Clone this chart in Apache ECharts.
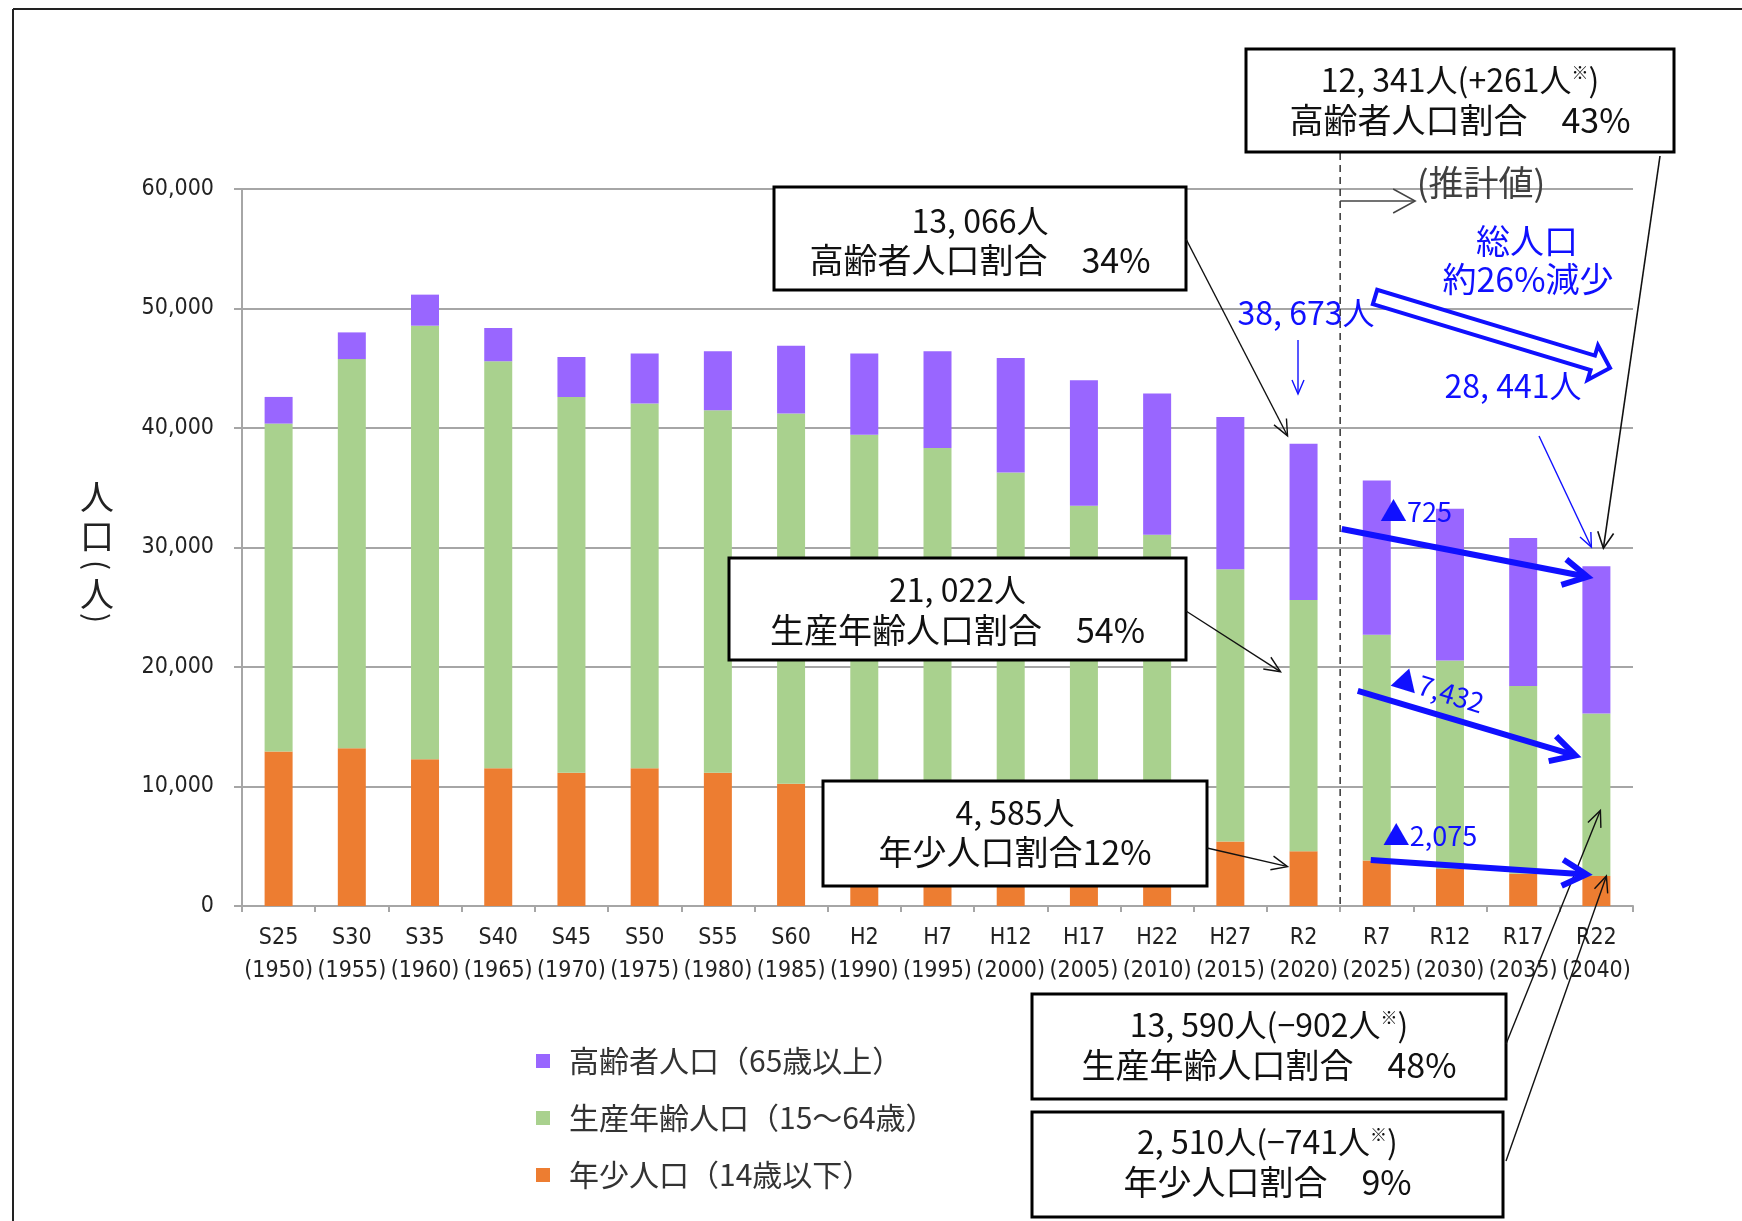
<!DOCTYPE html>
<html><head><meta charset="utf-8">
<script src="https://cdn.jsdelivr.net/npm/echarts@6/dist/echarts.min.js"></script>
<style>html,body{margin:0;padding:0;background:#fff}#c{width:1742px;height:1221px}</style>
</head><body><div id="c"></div>
<script>
// ---- data ----
const categories = ['S25','S30','S35','S40','S45','S50','S55','S60','H2','H7','H12','H17','H22','H27','R2','R7','R12','R17','R22'];
const years = ['1950','1955','1960','1965','1970','1975','1980','1985','1990','1995','2000','2005','2010','2015','2020','2025','2030','2035','2040'];
const youngPop   = [12930,13210,12280,11530,11160,11530,11160,10230,9000,7800,6800,6200,5800,5400,4585,3800,3100,2700,2510];
const workingPop = [27440,32560,36280,34050,31440,30520,30330,30980,30440,30530,29480,27290,25270,22790,21022,18900,17450,15700,13590];
const elderlyPop = [2230,2230,2600,2790,3350,4180,4930,5670,6790,8090,9580,10510,11810,12740,13066,12900,12700,12400,12341];
const seriesNames = ['年少人口（14歳以下）','生産年齢人口（15～64歳）','高齢者人口（65歳以上）'];
const legendOrder = ['高齢者人口（65歳以上）','生産年齢人口（15～64歳）','年少人口（14歳以下）'];
const yAxisName = ['人','口','(','人',')'];
const boxLabels = [
  ['{a|12, 341人(+261人}{s|※}{a|)}','高齢者人口割合　43%'],
  ['13, 066人','高齢者人口割合　34%'],
  ['21, 022人','生産年齢人口割合　54%'],
  ['4, 585人','年少人口割合12%'],
  ['{a|13, 590人(−902人}{s|※}{a|)}','生産年齢人口割合　48%'],
  ['{a|2, 510人(−741人}{s|※}{a|)}','年少人口割合　9%']
];
const blueLabels = {start:'38, 673人', end:'28, 441人', total1:'総人口', total2:'約26%減少', d1:'▲725', d2:'▲7,432', d3:'▲2,075'};
const estLabel = '(推計値)';

const JP = "'Noto Sans CJK JP','Noto Sans',sans-serif";
const NUM = "'Liberation Sans Narrow','DejaVu Sans Condensed','Liberation Sans',sans-serif";
const GRAY = '#a6a6a6';
const BLUE = '#1010ff';

const chart = echarts.init(document.getElementById('c'), null, {width:1742, height:1221});
const colors = ['#ED7D31','#A9D18E','#9966FF'];
const dataSets = [youngPop, workingPop, elderlyPop];

chart.setOption({
  animation:false,
  backgroundColor:'#fff',
  grid:{left:242, right:109, top:189, bottom:315},
  legend:{
    orient:'vertical', left:531, top:1040, itemWidth:14, itemHeight:14, itemGap:25, icon:'rect',
    data:legendOrder, selectedMode:false,
    textStyle:{fontFamily:JP, fontSize:30, color:'#333', lineHeight:32, padding:[0,0,0,14]}
  },
  xAxis:{
    type:'category', data:categories,
    axisLine:{lineStyle:{color:GRAY, width:2}},
    axisTick:{show:true, length:6, lineStyle:{color:GRAY, width:2}},
    axisLabel:{interval:0, margin:16, formatter:(v,i)=> v + '\n(' + years[i] + ')',
      fontFamily:NUM, fontSize:23, lineHeight:33, color:'#222'}
  },
  yAxis:{
    type:'value', min:0, max:60000, interval:10000,
    axisLine:{show:true, lineStyle:{color:GRAY, width:2}},
    axisTick:{show:true, length:8, lineStyle:{color:GRAY, width:2}},
    splitLine:{lineStyle:{color:GRAY, width:2}},
    axisLabel:{margin:28, fontFamily:NUM, fontSize:23, color:'#222',
      formatter:v=> v.toLocaleString('en-US')}
  },
  series: seriesNames.map((n,k)=>({
    name:n, type:'bar', stack:'total', barWidth:28, data:dataSets[k],
    itemStyle:{color:colors[k]}, emphasis:{disabled:true}
  }))
});

const P = (i,v)=> chart.convertToPixel({gridIndex:0},[i,v]);

function arrow(x1,y1,x2,y2,color,w,hl,hw,z){
  const dx=x2-x1, dy=y2-y1, L=Math.hypot(dx,dy), ux=dx/L, uy=dy/L, nx=-uy, ny=ux;
  const bx=x2-ux*hl, by=y2-uy*hl;
  return [
    {type:'polyline', silent:true, z:z, shape:{points:[[x1,y1],[x2-ux*w*0.5,y2-uy*w*0.5]]}, style:{stroke:color, lineWidth:w, fill:null}},
    {type:'polyline', silent:true, z:z, shape:{points:[[bx+nx*hw,by+ny*hw],[x2,y2],[bx-nx*hw,by-ny*hw]]}, style:{stroke:color, lineWidth:w, fill:null, lineJoin:'miter'}}
  ];
}
function hollowArrow(x1,y1,x2,y2,sw,hw,hl,color,z){
  const dx=x2-x1, dy=y2-y1, L=Math.hypot(dx,dy), ux=dx/L, uy=dy/L, nx=-uy, ny=ux;
  const bx=x2-ux*hl, by=y2-uy*hl;
  const pts=[[x1+nx*sw/2,y1+ny*sw/2],[bx+nx*sw/2,by+ny*sw/2],[bx+nx*hw/2,by+ny*hw/2],[x2,y2],
    [bx-nx*hw/2,by-ny*hw/2],[bx-nx*sw/2,by-ny*sw/2],[x1-nx*sw/2,y1-ny*sw/2]];
  return {type:'polygon', silent:true, z:z, shape:{points:pts}, style:{fill:'#fff', stroke:color, lineWidth:4, lineJoin:'miter'}};
}
function txt(x,y,text,size,color,extra){
  return {type:'text', silent:true, z:20, x:x, y:y,
    style:Object.assign({text:text, fontFamily:JP, fontSize:size, fill:color, align:'center', verticalAlign:'middle'}, extra||{})};
}

const boxGeom = [
  {x:1246,y:49,w:428,h:103,y1:80,y2:120},
  {x:774,y:187,w:412,h:103,y1:221,y2:260},
  {x:729,y:558,w:457,h:102,y1:590,y2:630},
  {x:823,y:781,w:384,h:105,y1:813,y2:852},
  {x:1032,y:994,w:474,h:105,y1:1025,y2:1065},
  {x:1032,y:1112,w:471,h:105,y1:1142,y2:1182}
];

const g = [];
// outer frame
g.push({type:'line', silent:true, shape:{x1:13,y1:9,x2:1742,y2:9}, style:{stroke:'#222', lineWidth:2}});
g.push({type:'line', silent:true, shape:{x1:13,y1:9,x2:13,y2:1221}, style:{stroke:'#222', lineWidth:2}});
// y axis name (vertical, parentheses turned)
const nameY = [497,536,565,594,618];
yAxisName.forEach((ch,k)=>{
  const isParen = (ch==='(' || ch===')');
  g.push({type:'text', silent:true, x:97, y:nameY[k], rotation: isParen ? -Math.PI/2 : 0,
    style:{text:ch, fontFamily:JP, fontSize:isParen?30:34, fill:'#222', align:'center', verticalAlign:'middle'}});
});

// dashed divider between R2 and R7
const iR2 = categories.indexOf('R2'), iR7 = categories.indexOf('R7'), iR22 = categories.indexOf('R22');
const divX = (P(iR2,0)[0] + P(iR7,0)[0]) / 2;
g.push({type:'line', silent:true, z:5, shape:{x1:divX,y1:153,x2:divX,y2:P(0,0)[1]}, style:{stroke:'#333', lineWidth:1.5, lineDash:[7,5]}});
// estimate arrow + label
g.push(...arrow(divX,201,divX+75,201,'#444',1.5,22,12,6));
g.push(txt(1481,183,estLabel,35,'#404040'));

// boxes
boxGeom.forEach((b,k)=>{
  g.push({type:'rect', silent:true, z:10, shape:{x:b.x,y:b.y,width:b.w,height:b.h}, style:{fill:'#fff', stroke:'#000', lineWidth:3}});
  const cx = b.x + b.w/2;
  g.push(txt(cx,b.y1,boxLabels[k][0],32,'#111',{rich:{a:{fontSize:32,fontFamily:JP,fill:'#111'}, s:{fontSize:17,fontFamily:JP,fill:'#111',verticalAlign:'top',padding:[0,0,14,0]}}}));
  g.push(txt(cx,b.y2,boxLabels[k][1],34,'#111'));
});

// totals
const total = i => youngPop[i] + workingPop[i] + elderlyPop[i];
const cR2 = P(iR2,0)[0], cR7 = P(iR7,0)[0], cR22 = P(iR22,0)[0];
const yv = v => P(0,v)[1];

// black thin arrows from boxes
g.push(...arrow(1186,239, cR2-16, yv(total(iR2))-8, '#111',1.4,16,7,12));
g.push(...arrow(1186,611, cR2-23, yv(19600), '#111',1.4,16,7,12));
g.push(...arrow(1207,848, cR2-16, yv(3300), '#111',1.4,16,7,12));
g.push(...arrow(1660,156, cR22+7, yv(total(iR22))-18, '#111',1.6,16,8,12));
g.push(...arrow(1506,1044, cR22+4, yv(8000), '#111',1.4,16,7,12));
g.push(...arrow(1506,1161, cR22+10, yv(youngPop[iR22]), '#111',1.4,16,7,12));

// blue annotations
g.push(txt(1306,313,blueLabels.start,32,BLUE));
g.push(...arrow(1298,340,1298,394,BLUE,1.4,14,6,12));
g.push(txt(1527,241,blueLabels.total1,34,BLUE));
g.push(txt(1528,279,blueLabels.total2,34,BLUE));
g.push(hollowArrow(1375,297,1610,368,15,36,18,BLUE,12));
g.push(txt(1513,386,blueLabels.end,32,BLUE));
g.push(...arrow(1539,436, cR22-5, yv(total(iR22))-19, BLUE,1.4,14,6,12));

// thick blue trend arrows
g.push(...arrow(cR7-35, yv(31550), cR22-9, yv(27550), BLUE,6,24,13,15));
g.push(...arrow(cR7-19, yv(18000), cR22-21, yv(12600), BLUE,6,24,13,15));
g.push(...arrow(cR7-6, yv(3850), cR22-10, yv(2650), BLUE,6,24,13,15));
g.push(txt(1416,512,blueLabels.d1,27,BLUE));
const d2 = txt(1438,690,blueLabels.d2,27,BLUE); d2.rotation = -0.3; g.push(d2);
g.push(txt(1430,836,blueLabels.d3,27,BLUE));

chart.setOption({graphic:{elements:g}});
</script>
</body></html>
